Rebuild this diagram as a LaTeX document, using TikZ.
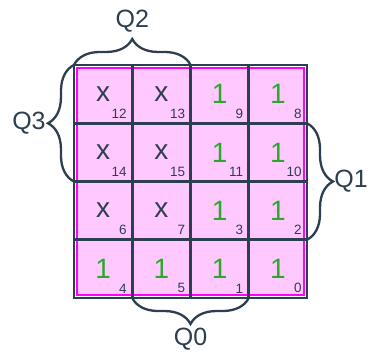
\documentclass[tikz,border=0pt]{standalone}
\usepackage{fontspec}
\setmainfont{Liberation Sans}
\usetikzlibrary{positioning,calc,backgrounds,decorations.pathreplacing}
\definecolor{ink}{RGB}{45,62,80}
\definecolor{grn}{RGB}{40,170,40}
\definecolor{pnk}{RGB}{255,200,255}
\definecolor{mag}{RGB}{255,0,255}
\tikzset{
  every node/.style={inner sep=0pt,outer sep=0pt,text=ink},
  cell/.style={draw=ink,line width=2.6pt,minimum size=58.25pt,font=\fontsize{28}{28}\selectfont},
  one/.style={cell,text=grn},
  dc/.style={cell},
  idx/.style={draw=none,text=ink,anchor=south east,xshift=-5.5pt,yshift=5pt,
              font=\fontsize{13.5}{13.5}\selectfont},
  grp/.style={draw=mag,fill=pnk,line width=2.2pt},   % group around all 16 cells
  brc/.style={draw=ink,line width=2.3pt,decorate,decoration={brace,amplitude=26pt}},
  qlbl/.style={font=\fontsize{25}{25}\selectfont},
}

\begin{document}
\begin{tikzpicture}[x=1pt,y=1pt]
  \useasboundingbox (0,0) rectangle (368,-352);
  % columns 103.1, 161.4, 219.6, 277.9; rows -94.1, -152.4, -210.6, -268.9 (pitch 58.25 pt)

  % row 1
  \node[dc,label={[idx]south east:12}]  (c12) at (103.1,-94.1)  {x};
  \node[dc,label={[idx]south east:13}]  (c13) at (161.4,-94.1)  {x};
  \node[one,label={[idx]south east:9}]  (c9)  at (219.6,-94.1)  {1};
  \node[one,label={[idx]south east:8}]  (c8)  at (277.9,-94.1)  {1};

  % row 2
  \node[dc,label={[idx]south east:14}]  (c14) at (103.1,-152.4) {x};
  \node[dc,label={[idx]south east:15}]  (c15) at (161.4,-152.4) {x};
  \node[one,label={[idx]south east:11}] (c11) at (219.6,-152.4) {1};
  \node[one,label={[idx]south east:10}] (c10) at (277.9,-152.4) {1};

  % row 3
  \node[dc,label={[idx]south east:6}]   (c6)  at (103.1,-210.6) {x};
  \node[dc,label={[idx]south east:7}]   (c7)  at (161.4,-210.6) {x};
  \node[one,label={[idx]south east:3}]  (c3)  at (219.6,-210.6) {1};
  \node[one,label={[idx]south east:2}]  (c2)  at (277.9,-210.6) {1};

  % row 4
  \node[one,label={[idx]south east:4}]  (c4)  at (103.1,-268.9) {1};
  \node[one,label={[idx]south east:5}]  (c5)  at (161.4,-268.9) {1};
  \node[one,label={[idx]south east:1}]  (c1)  at (219.6,-268.9) {1};
  \node[one,label={[idx]south east:0}]  (c0)  at (277.9,-268.9) {1};

  % group (behind the grid)
  \begin{scope}[on background layer]
    \draw[grp] ($(c12.north west)+(3,-3)$) rectangle ($(c0.south east)+(-3,3)$);
  \end{scope}

  % variable braces
  \draw[brc] (c12.north west) -- (c13.north east) node[qlbl,midway,yshift=44pt]  (q2) {Q2};
  \draw[brc] (c14.south west) -- (c12.north west) node[qlbl,midway,xshift=-45pt] (q3) {Q3};
  \draw[brc] (c10.north east) -- (c2.south east)  node[qlbl,midway,xshift=44pt]  (q1) {Q1};
  \draw[brc] (c1.south east)  -- (c5.south west)  node[qlbl,midway,yshift=-41pt] (q0) {Q0};
\end{tikzpicture}
\end{document}
